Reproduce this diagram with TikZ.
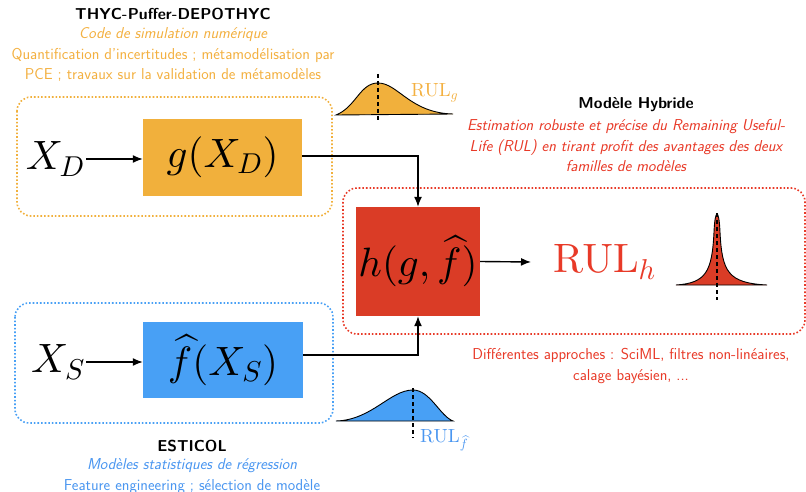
\documentclass[tikz,border=0pt]{standalone}
\DeclareFontShape{OT1}{cmr}{m}{n}{<->cmr10}{}
\DeclareFontShape{OML}{cmm}{m}{it}{<->cmmi10}{}
\DeclareFontShape{OMS}{cmsy}{m}{n}{<->cmsy10}{}
\DeclareFontShape{OMX}{cmex}{m}{n}{<->cmex10}{}
\usetikzlibrary{arrows.meta}
\definecolor{orC}{RGB}{241,176,60}
\definecolor{orT}{RGB}{243,176,64}
\definecolor{blC}{RGB}{72,160,245}
\definecolor{blT}{RGB}{74,150,240}
\definecolor{rdC}{RGB}{218,60,38}
\definecolor{rdT}{RGB}{232,58,40}
\tikzset{
  dotbox/.style={draw=#1, dotted, line width=1.6pt, rounded corners=14pt},
  conn/.style={line width=1.4pt, -{Latex[length=10pt,width=8pt]}},
  bigmath/.style={font=\fontsize{41}{41}\selectfont, inner sep=1pt},
  txt/.style={font=\sffamily\fontsize{15.8}{20.5}\selectfont, align=center},
  ttl/.style={font=\sffamily\bfseries\fontsize{15.8}{20}\selectfont, align=center},
  dist/.style={line width=0.9pt, draw=black},
  med/.style={line width=1.6pt, dash pattern=on 4pt off 3pt},
}
\begin{document}
\begin{tikzpicture}[x=1pt,y=-1pt]
\useasboundingbox (0,0) rectangle (806,492);
% dotted group boxes
\draw[dotbox=orC] (17,97) rectangle (332,216);
\draw[dotbox=blC] (15,303) rectangle (333,423);
\draw[dotbox=rdT] (343,188) rectangle (805,334);
% main boxes
\node[fill=orC, minimum width=159pt, minimum height=77pt, inner sep=0pt, font=\fontsize{41}{41}\selectfont] (g) at (222.5,157.5) {$g(X_D)$};
\node[fill=blC, minimum width=160pt, minimum height=76pt, inner sep=0pt, font=\fontsize{41}{41}\selectfont] (f) at (223,360) {$\widehat{f}(X_S)$};
\node[fill=rdC, minimum width=124pt, minimum height=109pt, inner sep=0pt, font=\fontsize{41}{41}\selectfont] (h) at (418,261.5) {$h(g,\widehat{f})$};
% inputs
\node[bigmath, anchor=east] (xd) at (86,159) {$X_D$};
\node[bigmath, anchor=east] (xs) at (86,362) {$X_S$};
\node[font=\fontsize{41}{41}\selectfont, text=rdT, anchor=west, inner sep=0pt] (rulh) at (553,262) {$\mathrm{RUL}_h$};
% connectors
\draw[conn] (xd.east) -- (g.west |- xd.east);
\draw[conn] (xs.east) -- (f.west |- xs.east);
\coordinate (gout) at ([yshift=1.5pt]g.east);
\coordinate (fout) at ([yshift=5pt]f.east);
\draw[conn] (gout) -| (h.north);
\draw[conn] (fout) -| (h.south);
\coordinate (rulin) at ([xshift=-22pt]rulh.west);
\draw[conn] (h.east) -- (rulin);
% distributions
\draw[dist, fill=orC] (336,115) .. controls (356,107) and (360,83) .. (378,83) .. controls (398,83) and (410,113) .. (453,114) -- cycle;
\draw[med] (378,74) -- (378,122);
\node[font=\fontsize{19}{19}\selectfont, text=orT, anchor=base west, inner sep=0pt] (rulg) at (411,97) {$\mathrm{RUL}_g$};
\draw[dist, fill=blC] (336,421) .. controls (372,420) and (390,390) .. (413,390) .. controls (430,390) and (440,416) .. (453,421) -- cycle;
\draw[med] (413,388) -- (413,438);
\node[font=\fontsize{19}{19}\selectfont, text=blT, anchor=base west, inner sep=0pt] (rulf) at (420,442) {$\mathrm{RUL}_{\widehat{f}}$};
\draw[dist, fill=rdC] (676,285) .. controls (706,283) and (712,272) .. (714,232) .. controls (715,208) and (719,208) .. (720,232) .. controls (722,272) and (728,283) .. (767,285) -- cycle;
\draw[med] (717,213) -- (717,300);
% texts
\node[ttl] (t1) at (173,14) {THYC-Puffer-DEPOTHYC};
\node[txt, text=orT, anchor=north] (t1b) at (173,24) {\itshape Code de simulation numérique\\Quantification d'incertitudes ; métamodélisation par\\PCE ; travaux sur la validation de métamodèles};
\node[ttl] (t2) at (636,105) {Modèle Hybride};
\node[txt, text=rdT, anchor=north] (t2b) at (626,116) {\itshape Estimation robuste et précise du Remaining Useful-\\\itshape Life (RUL) en tirant profit des avantages des deux\\\itshape familles de modèles};
\node[txt, text=rdT, anchor=north] (t2c) at (631,345) {Différentes approches : SciML, filtres non-linéaires,\\calage bayésien, ...};
\node[ttl] (t3) at (192,446) {ESTICOL};
\node[txt, text=blT, anchor=north] (t3b) at (192,455) {\itshape Modèles statistiques de régression\\Feature engineering ; sélection de modèle};
\end{tikzpicture}
\end{document}
